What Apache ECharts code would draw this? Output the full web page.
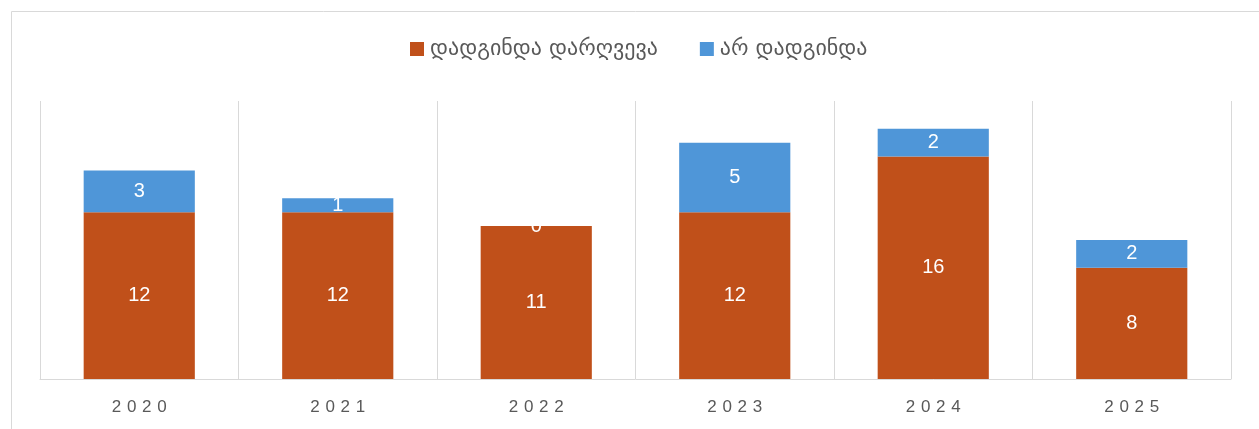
<!DOCTYPE html>
<html><head><meta charset="utf-8">
<script src="https://cdn.jsdelivr.net/npm/echarts@6/dist/echarts.min.js"></script>
<style>html,body{margin:0;padding:0;background:#fff}#c{width:1259px;height:429px}</style>
</head><body><div id="c"></div>
<script>
const categories = ['2020','2021','2022','2023','2024','2025'];
const violationFound = [12,12,11,12,16,8];
const notFound = [3,1,0,5,2,2];
const seriesNames = ['დადგინდა დარღვევა','არ დადგინდა'];

const chart = echarts.init(document.getElementById('c'));
const lbl = {show:true, position:'inside', color:'#fff', fontSize:20, fontFamily:'Arial, Liberation Sans, sans-serif'};
chart.setOption({
  animation:false,
  graphic:[{type:'rect', shape:{x:11.5,y:11.5,width:1300,height:500}, style:{fill:'none', stroke:'#d9d9d9', lineWidth:1}, silent:true, z:-1}],
  legend:{top:33, left:405, itemWidth:14, itemHeight:14, itemGap:42, icon:'rect',
    textStyle:{color:'#595959', fontSize:22, fontFamily:'DejaVu Sans, sans-serif', padding:[0,0,0,1]}},
  grid:{left:40, right:28, top:101, bottom:50},
  xAxis:{type:'category', data:categories,
    axisLine:{lineStyle:{color:'#d9d9d9', width:1}}, axisTick:{show:false},
    splitLine:{show:true, lineStyle:{color:'#d9d9d9', width:1}},
    axisLabel:{color:'#595959', fontSize:17, margin:20, fontFamily:'Arial, Liberation Sans, sans-serif',
      formatter:v=>v.split('').join('\u2004')}},
  yAxis:{type:'value', min:0, max:20, show:false, splitLine:{show:false}},
  series:[
    {name:seriesNames[0], type:'bar', stack:'a', data:violationFound, barCategoryGap:'44%', itemStyle:{color:'#C0501A'}, label:lbl},
    {name:seriesNames[1], type:'bar', stack:'a', data:notFound, itemStyle:{color:'#4F96D8'}, label:lbl}
  ]
});
</script></body></html>
